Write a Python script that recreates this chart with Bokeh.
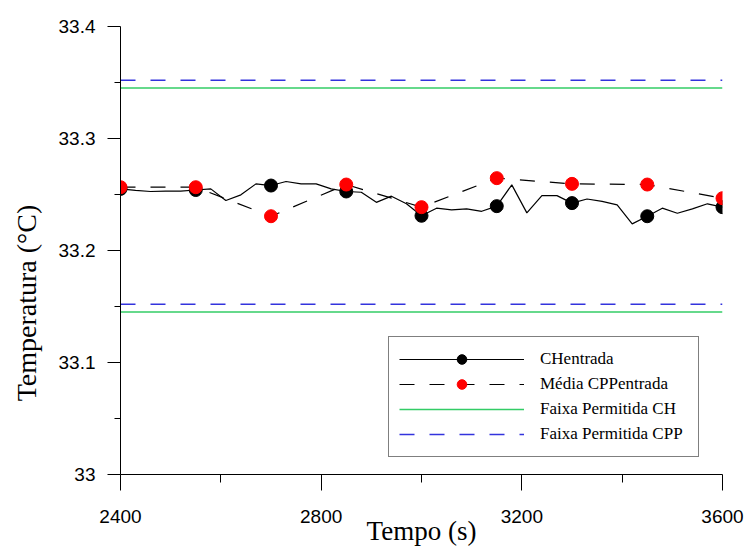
from bokeh.plotting import figure
from bokeh.models import (Range1d, Legend, LegendItem, FixedTicker,
                          NumeralTickFormatter)
from bokeh.embed import file_html
from bokeh.resources import INLINE

# CHentrada: inlet temperature logged every 30 s
ch_time = [2400, 2430, 2460, 2490, 2520, 2550, 2580, 2610, 2640, 2670,
           2700, 2730, 2760, 2790, 2820, 2850, 2880, 2910, 2940, 2970,
           3000, 3030, 3060, 3090, 3120, 3150, 3180, 3210, 3240, 3270,
           3300, 3330, 3360, 3390, 3420, 3450, 3480, 3510, 3540, 3570,
           3600]
ch_temp = [33.255, 33.2536, 33.2527, 33.253, 33.253, 33.254, 33.255, 33.2446, 33.2497, 33.2595,
           33.258, 33.2616, 33.2595, 33.2595, 33.255, 33.2527, 33.252, 33.243, 33.2485, 33.2417,
           33.231, 33.2378, 33.2363, 33.2372, 33.235, 33.2396, 33.2586, 33.2336, 33.249, 33.249,
           33.2423, 33.246, 33.2438, 33.2408, 33.2238, 33.2306, 33.2378, 33.2333, 33.2372, 33.2417,
           33.2387]
# every 5th reading (150 s) carries a marker
ch_mark_step = 5

# Média CPPentrada: averaged values every 150 s
cpp_time = [2400, 2550, 2700, 2850, 3000, 3150, 3300, 3450, 3600]
cpp_temp = [33.2565, 33.2565, 33.2306, 33.2589, 33.2387, 33.2646, 33.2595, 33.2589, 33.2467]

# allowed bands (lower, upper)
band_time = [2400, 3600]
ch_band = [33.145, 33.345]
cpp_band = [33.152, 33.352]

x_ticks = [2400, 2800, 3200, 3600]
x_minor = [2600, 3000, 3400]
y_ticks = [33.0, 33.1, 33.2, 33.3, 33.4]
y_minor = [33.05, 33.15, 33.25, 33.35]

SERIF = "Liberation Serif"
SANS = "Liberation Sans"
GREEN = "#33cc66"
BLUE = "#3333dd"
NBSP = "\u00a0"

p = figure(width=744, height=551, output_backend="svg", toolbar_location=None,
           x_range=Range1d(2400, 3600), y_range=Range1d(33.0, 33.4),
           min_border_left=120, min_border_right=22,
           min_border_top=26, min_border_bottom=77)
p.outline_line_color = None
p.grid.visible = False
p.background_fill_color = "white"
p.border_fill_color = "white"

# band lines
green_lines = [p.line(band_time, [v, v], line_color=GREEN, line_width=1.5) for v in ch_band]
blue_lines = [p.line(band_time, [v, v], line_color=BLUE, line_width=1.5, line_dash="15 15")
              for v in cpp_band]

# CHentrada
ch_line = p.line(ch_time, ch_temp, line_color="black", line_width=1.2)
ch_pts = p.scatter(ch_time[::ch_mark_step], ch_temp[::ch_mark_step], size=13,
                   fill_color="black", line_color="black")

# Média CPPentrada
cpp_line = p.line(cpp_time, cpp_temp, line_color="black", line_width=1.2, line_dash="15 15")
cpp_pts = p.scatter(cpp_time, cpp_temp, size=13, fill_color="#ff0000", line_color="#ff0000")

# axes
xa = p.xaxis[0]
xa.ticker = FixedTicker(ticks=x_ticks, minor_ticks=x_minor)
xa.major_tick_in = 0
xa.major_tick_out = 16
xa.minor_tick_in = 0
xa.minor_tick_out = 8
xa.major_label_standoff = 19
xa.major_label_text_font = SANS
xa.major_label_text_font_size = "19px"
xa.major_label_text_color = "black"
xa.axis_line_color = "black"
xa.major_tick_line_color = "black"
xa.minor_tick_line_color = "black"
xa.axis_label = "Tempo (s)"
xa.axis_label_text_font = SERIF
xa.axis_label_text_font_size = "27px"
xa.axis_label_text_font_style = "normal"
xa.axis_label_text_color = "black"
xa.axis_label_standoff = -10

ya = p.yaxis[0]
ya.ticker = FixedTicker(ticks=y_ticks, minor_ticks=y_minor)
ya.formatter = NumeralTickFormatter(format="0.[0]")
ya.major_tick_in = 0
ya.major_tick_out = 13
ya.minor_tick_in = 0
ya.minor_tick_out = 6
ya.major_label_standoff = 12
ya.major_label_text_font = SANS
ya.major_label_text_font_size = "19px"
ya.major_label_text_color = "black"
ya.axis_line_color = "black"
ya.major_tick_line_color = "black"
ya.minor_tick_line_color = "black"
# trailing no-break spaces push the visible title below the frame centre
ya.axis_label = "Temperatura (°C)" + NBSP * 15
ya.axis_label_text_font = SERIF
ya.axis_label_text_font_size = "28px"
ya.axis_label_text_font_style = "normal"
ya.axis_label_text_color = "black"
ya.axis_label_standoff = 14

legend = Legend(items=[
    LegendItem(label="CHentrada", renderers=[ch_line, ch_pts]),
    LegendItem(label="Média CPPentrada", renderers=[cpp_line, cpp_pts]),
    LegendItem(label="Faixa Permitida CH", renderers=[green_lines[1]]),
    LegendItem(label="Faixa Permitida CPP", renderers=[blue_lines[1]]),
], location=(268, 17))
legend.margin = 0
legend.padding = 10
legend.spacing = 1
legend.glyph_width = 125
legend.glyph_height = 24
legend.label_height = 24
legend.label_width = 148
legend.label_standoff = 16
legend.label_text_font = SERIF
legend.label_text_font_size = "17px"
legend.label_text_color = "black"
legend.border_line_color = "black"
legend.border_line_width = 1
legend.background_fill_color = "white"
legend.background_fill_alpha = 1
p.add_layout(legend)

open("out.html", "w").write(file_html(p, INLINE))
